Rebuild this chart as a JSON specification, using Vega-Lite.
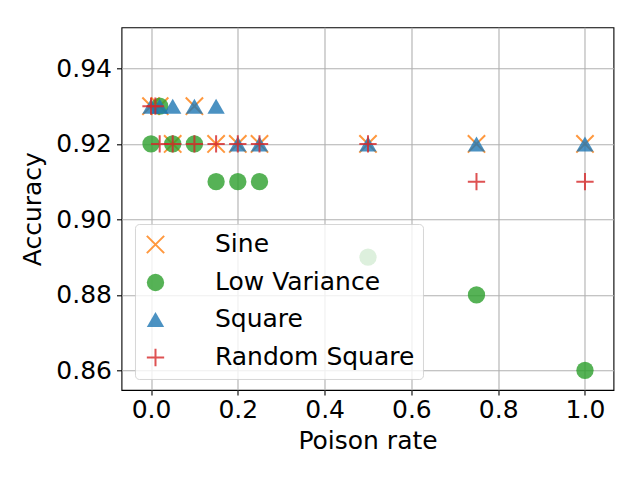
{
  "$schema": "https://vega.github.io/schema/vega-lite/v6.json",
  "autosize": "none",
  "padding": {"left": 121.5, "top": 27.3, "right": 26.7, "bottom": 90},
  "width": 492,
  "height": 362.7,
  "background": "white",
  "data": {
    "values": [
      {"rate": 0, "acc": 0.93, "series": "Sine"},
      {"rate": 0.02, "acc": 0.93, "series": "Sine"},
      {"rate": 0.05, "acc": 0.92, "series": "Sine"},
      {"rate": 0.1, "acc": 0.93, "series": "Sine"},
      {"rate": 0.15, "acc": 0.92, "series": "Sine"},
      {"rate": 0.2, "acc": 0.92, "series": "Sine"},
      {"rate": 0.25, "acc": 0.92, "series": "Sine"},
      {"rate": 0.5, "acc": 0.92, "series": "Sine"},
      {"rate": 0.75, "acc": 0.92, "series": "Sine"},
      {"rate": 1, "acc": 0.92, "series": "Sine"},
      {"rate": 0, "acc": 0.92, "series": "Low Variance"},
      {"rate": 0.02, "acc": 0.93, "series": "Low Variance"},
      {"rate": 0.05, "acc": 0.92, "series": "Low Variance"},
      {"rate": 0.1, "acc": 0.92, "series": "Low Variance"},
      {"rate": 0.15, "acc": 0.91, "series": "Low Variance"},
      {"rate": 0.2, "acc": 0.91, "series": "Low Variance"},
      {"rate": 0.25, "acc": 0.91, "series": "Low Variance"},
      {"rate": 0.5, "acc": 0.89, "series": "Low Variance"},
      {"rate": 0.75, "acc": 0.88, "series": "Low Variance"},
      {"rate": 1, "acc": 0.86, "series": "Low Variance"},
      {"rate": 0, "acc": 0.93, "series": "Square"},
      {"rate": 0.02, "acc": 0.93, "series": "Square"},
      {"rate": 0.05, "acc": 0.93, "series": "Square"},
      {"rate": 0.1, "acc": 0.93, "series": "Square"},
      {"rate": 0.15, "acc": 0.93, "series": "Square"},
      {"rate": 0.2, "acc": 0.92, "series": "Square"},
      {"rate": 0.25, "acc": 0.92, "series": "Square"},
      {"rate": 0.5, "acc": 0.92, "series": "Square"},
      {"rate": 0.75, "acc": 0.92, "series": "Square"},
      {"rate": 1, "acc": 0.92, "series": "Square"},
      {"rate": 0, "acc": 0.93, "series": "Random Square"},
      {"rate": 0.01, "acc": 0.93, "series": "Random Square"},
      {"rate": 0.02, "acc": 0.92, "series": "Random Square"},
      {"rate": 0.05, "acc": 0.92, "series": "Random Square"},
      {"rate": 0.1, "acc": 0.92, "series": "Random Square"},
      {"rate": 0.15, "acc": 0.92, "series": "Random Square"},
      {"rate": 0.2, "acc": 0.92, "series": "Random Square"},
      {"rate": 0.25, "acc": 0.92, "series": "Random Square"},
      {"rate": 0.5, "acc": 0.92, "series": "Random Square"},
      {"rate": 0.75, "acc": 0.91, "series": "Random Square"},
      {"rate": 1, "acc": 0.91, "series": "Random Square"}
    ]
  },
  "mark": {"type": "point", "size": 300, "opacity": 0.8, "strokeWidth": 2},
  "encoding": {
    "x": {
      "field": "rate", "type": "quantitative", "title": "Poison rate",
      "scale": {"domain": [-0.068, 1.0657], "nice": false, "zero": false},
      "axis": {"values": [0, 0.2, 0.4, 0.6, 0.8, 1.0], "format": ".1f", "labelPadding": 3, "titlePadding": 6}
    },
    "y": {
      "field": "acc", "type": "quantitative", "title": "Accuracy",
      "scale": {"domain": [0.8548, 0.9509], "nice": false, "zero": false},
      "axis": {"values": [0.86, 0.88, 0.9, 0.92, 0.94], "format": ".2f", "labelPadding": 5, "titlePadding": 10}
    },
    "shape": {
      "field": "series", "type": "nominal", "legend": {"title": null},
      "scale": {
        "domain": ["Sine", "Low Variance", "Square", "Random Square"],
        "range": ["M-1,-1L1,1M-1,1L1,-1", "circle", "triangle-up", "M-1,0L1,0M0,-1L0,1"]
      }
    },
    "fill": {
      "field": "series", "type": "nominal", "legend": {"title": null},
      "scale": {
        "domain": ["Sine", "Low Variance", "Square", "Random Square"],
        "range": ["transparent", "#2ca02c", "#1f77b4", "transparent"]
      }
    },
    "stroke": {
      "field": "series", "type": "nominal", "legend": {"title": null},
      "scale": {
        "domain": ["Sine", "Low Variance", "Square", "Random Square"],
        "range": ["#ff7f0e", "transparent", "transparent", "#d62728"]
      }
    }
  },
  "config": {
    "view": {"stroke": "black", "strokeWidth": 1.1},
    "axis": {
      "domain": false,
      "labelFont": "DejaVu Sans", "labelFontSize": 25, "labelColor": "black",
      "titleFont": "DejaVu Sans", "titleFontSize": 25, "titleFontWeight": "normal", "titleColor": "black",
      "tickColor": "black", "tickSize": 5, "tickWidth": 1.1,
      "grid": true, "gridColor": "#b0b0b0", "gridWidth": 1.1
    },
    "legend": {
      "orient": "none", "legendX": 13.5, "legendY": 196.7,
      "labelFont": "DejaVu Sans", "labelFontSize": 25, "labelColor": "black", "labelLimit": 0,
      "fillColor": "rgba(255,255,255,0.8)", "strokeColor": "rgba(204,204,204,0.8)",
      "cornerRadius": 4, "padding": 8, "rowPadding": 11, "labelOffset": 47,
      "symbolSize": 300, "symbolStrokeWidth": 2, "symbolOpacity": 0.8
    }
  }
}
